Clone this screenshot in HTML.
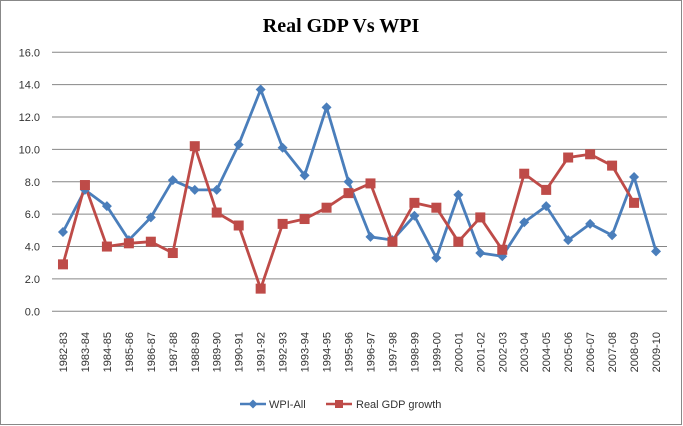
<!DOCTYPE html>
<html><head><meta charset="utf-8"><style>
body{margin:0;background:#fff}
svg{display:block;font-family:"Liberation Sans",sans-serif}
</style></head><body>
<svg width="683" height="426">
<rect x="0.5" y="0.5" width="681" height="424" fill="#fff" stroke="#888"/>
<text x="341" y="32" text-anchor="middle" font-family="'Liberation Serif',serif" font-weight="bold" font-size="20">Real GDP Vs WPI</text>
<g id="grid"></g><g id="yt"></g><g id="xt"></g><g id="series"></g>
<g>
<line x1="240" y1="404" x2="266" y2="404" stroke="#4a7ebb" stroke-width="2.5"/>
<path d="M253 399.5 L257.5 404 L253 408.5 L248.5 404Z" fill="#4a7ebb"/>
<text x="269" y="408" font-size="11" fill="#333">WPI-All</text>
<line x1="326" y1="404" x2="352" y2="404" stroke="#be4b48" stroke-width="2.5"/>
<rect x="335" y="400" width="8" height="8" fill="#be4b48"/>
<text x="356" y="408" font-size="11" fill="#333">Real GDP growth</text>
</g>
</svg>
<script>
const categories=["1982-83","1983-84","1984-85","1985-86","1986-87","1987-88","1988-89","1989-90","1990-91","1991-92","1992-93","1993-94","1994-95","1995-96","1996-97","1997-98","1998-99","1999-00","2000-01","2001-02","2002-03","2003-04","2004-05","2005-06","2006-07","2007-08","2008-09","2009-10"];
const wpi=[4.9,7.5,6.5,4.4,5.8,8.1,7.5,7.5,10.3,13.7,10.1,8.4,12.6,8.0,4.6,4.4,5.9,3.3,7.2,3.6,3.4,5.5,6.5,4.4,5.4,4.7,8.3,3.7];
const gdp=[2.9,7.8,4.0,4.2,4.3,3.6,10.2,6.1,5.3,1.4,5.4,5.7,6.4,7.3,7.9,4.3,6.7,6.4,4.3,5.8,3.8,8.5,7.5,9.5,9.7,9.0,6.7,null];
const yTicks=[0,2,4,6,8,10,12,14,16];
const NS="http://www.w3.org/2000/svg";
const L=52,R=667,T=52.3,B=311.3;
const step=(R-L)/categories.length;
function x(i){return L+step*(i+0.5);}
function y(v){return B-(v/16)*(B-T);}
function mk(t,a,p){const e=document.createElementNS(NS,t);for(const k in a)e.setAttribute(k,a[k]);p.appendChild(e);return e;}
const g=document.getElementById('grid'),yt=document.getElementById('yt'),xt=document.getElementById('xt'),s=document.getElementById('series');
yTicks.forEach(v=>{
const ln=mk('line',{x1:L,x2:R,y1:y(v),y2:y(v),stroke:'#868686','stroke-width':1},g);


const t=mk('text',{x:40,y:y(v)+4,'text-anchor':'end','font-size':11,fill:'#333'},yt);
t.textContent=v.toFixed(1);


});
categories.forEach((c,i)=>{
const t=mk('text',{transform:`translate(${x(i)+4},332) rotate(-90)`,'text-anchor':'end','font-size':11,fill:'#333'},xt);
t.textContent=c;


});
function path(d){let p='',m=true;d.forEach((v,i)=>{if(v==null){m=true;return;}p+=(m?'M':'L')+x(i)+' '+y(v)+' ';m=false;});return p;}
const pw=mk('path',{d:path(wpi),fill:'none',stroke:'#4a7ebb','stroke-width':2.8,'stroke-linejoin':'round'},s);


const pg=mk('path',{d:path(gdp),fill:'none',stroke:'#be4b48','stroke-width':2.8,'stroke-linejoin':'round'},s);


wpi.forEach((v,i)=>{if(v==null)return;const cx=x(i),cy=y(v);
const m=mk('path',{d:`M${cx} ${cy-5}L${cx+5} ${cy}L${cx} ${cy+5}L${cx-5} ${cy}Z`,fill:'#4a7ebb'},s);

});
gdp.forEach((v,i)=>{if(v==null)return;
const m=mk('rect',{x:x(i)-5,y:y(v)-5,width:10,height:10,fill:'#be4b48'},s);

});
</script>
</body></html>
